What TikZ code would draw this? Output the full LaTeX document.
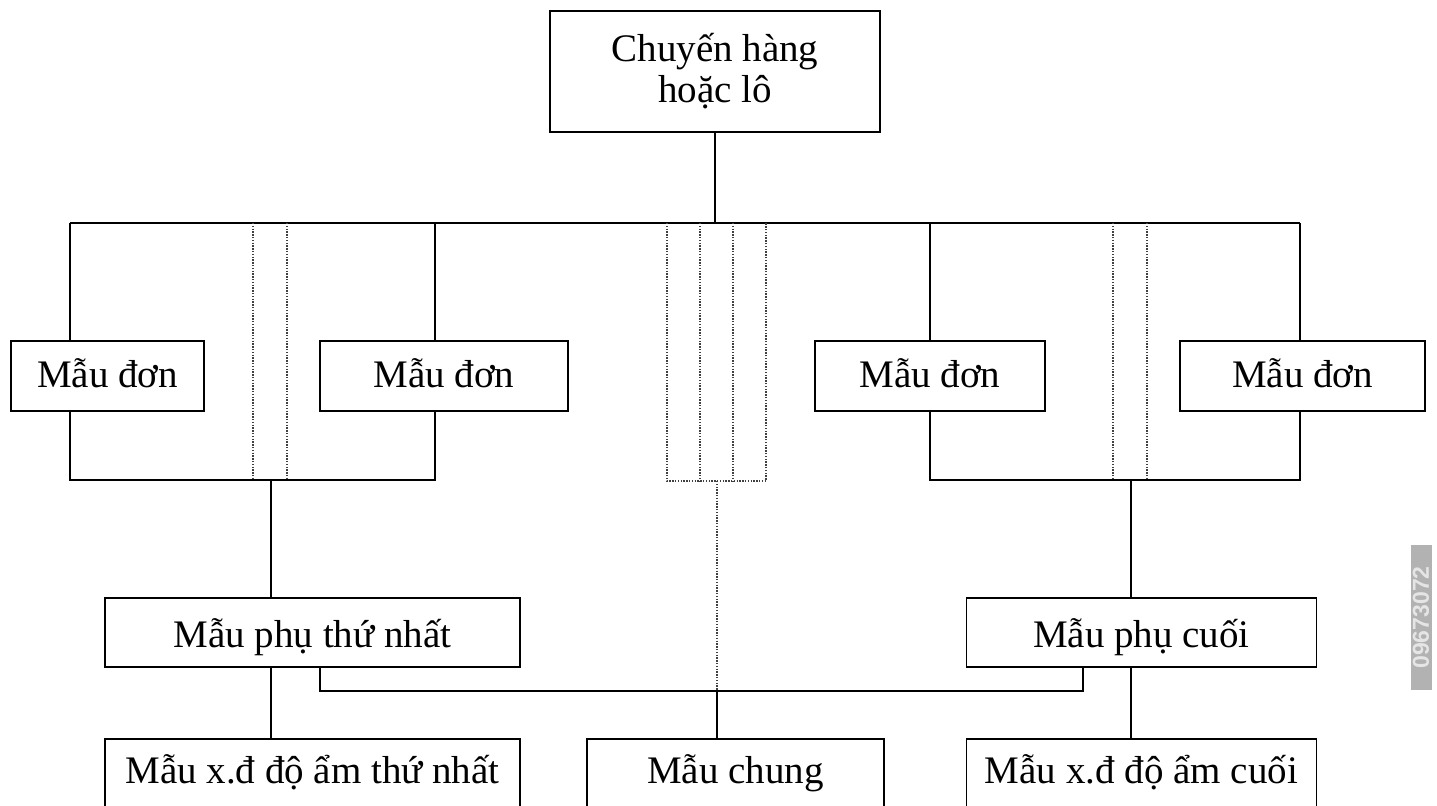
\documentclass[tikz,border=0pt]{standalone}
\usepackage{fontspec}
\setmainfont{Liberation Serif}
\newfontfamily\wmfont{Liberation Sans}
\begin{document}
\begin{tikzpicture}[x=0.5pt,y=-0.5pt,
  box/.style={draw, line width=0.9pt, fill=white, inner sep=0pt,
    font=\fontsize{19.5}{20.5}\selectfont},
  onebox/.style={box, text height=14pt, text depth=3pt, minimum height=35pt},
  subbox/.style={box, text height=17.5pt, text depth=3pt, minimum height=34.5pt},
  botbox/.style={box, text height=9pt, text depth=3pt, minimum height=38pt},
  link/.style={line width=0.9pt},
  dots/.style={line width=0.8pt, black!75, dash pattern=on 0.7pt off 0.7pt}]
\useasboundingbox (0,0) rectangle (1437,805);
\clip (0,0) rectangle (1437,805);
\fill[white] (0,0) rectangle (1437,805);

% junction coordinates
\coordinate (hl) at (70,223);
\coordinate (hr) at (1300,223);
\coordinate (hc) at (715,223);
\coordinate (la) at (70,480);
\coordinate (lb) at (435,480);
\coordinate (lt) at (435,223);
\coordinate (lm) at (271,480);
\coordinate (ra) at (930,480);
\coordinate (rt) at (930,223);
\coordinate (rb) at (1300,480);
\coordinate (rm) at (1131,480);
\coordinate (cj) at (717,691);
\coordinate (cb) at (717,481);
\coordinate (k1) at (320,691);
\coordinate (k2) at (1083,691);

% solid tree lines (behind boxes)
\draw[link] (hl) -- (hr);
\draw[link] (hl) -- (la) -- (lb) -- (lt);
\draw[link] (rt) -- (ra) -- (rb) -- (hr);

% dotted lines
\draw[dots] (253,223) -- (253,480);
\draw[dots] (287,223) -- (287,480);
\draw[dots] (1113,223) -- (1113,480);
\draw[dots] (1147,223) -- (1147,480);
\draw[dots] (667,223) -- (667,481) -- (766,481) -- (766,223);
\draw[dots] (700,223) -- (700,481);
\draw[dots] (733,223) -- (733,481);
\draw[dots] (cb) -- (cj);

% boxes
\node[box, minimum width=165pt, minimum height=60.5pt, align=center] (top) at (715,71.5) {Chuyến hàng\\hoặc lô};
\node[onebox, minimum width=96.5pt] (d1) at (107.5,376) {Mẫu đơn};
\node[onebox, minimum width=124pt] (d2) at (444,376) {Mẫu đơn};
\node[onebox, minimum width=115pt] (d3) at (930,376) {Mẫu đơn};
\node[onebox, minimum width=122.5pt] (d4) at (1302.5,376) {Mẫu đơn};
\node[subbox, minimum width=207.5pt] (p1) at (312.5,632.5) {Mẫu phụ thứ nhất};
\node[subbox, minimum width=175pt] (p2) at (1141.5,632.5) {Mẫu phụ cuối};
\node[botbox, minimum width=207.5pt] (b1) at (312.5,777) {Mẫu x.đ độ ẩm thứ nhất};
\node[botbox, minimum width=148.5pt] (b2) at (735.5,777) {Mẫu chung};
\node[botbox, minimum width=175pt] (b3) at (1141.5,777) {Mẫu x.đ độ ẩm cuối};

% connectors
\draw[link] (top.south) -- (hc);
\draw[link] (lm) -- (lm |- p1.north);
\draw[link] (rm) -- (rm |- p2.north);
\draw[link] (lm |- p1.south) -- (lm |- b1.north);
\draw[link] (rm |- p2.south) -- (rm |- b3.north);
\draw[link] (k1 |- p1.south) -- (k1) -- (k2) -- (k2 |- p2.south);
\draw[link] (cj) -- (cj |- b2.north);

% watermark
\node[fill=black!30, text=white!90!black, rotate=90, minimum width=72.5pt,
  minimum height=10.5pt, inner sep=0pt, font=\wmfont\bfseries\fontsize{11.5}{12}\selectfont]
  (wm) at (1421,617.5) {09673072};
\end{tikzpicture}
\end{document}
